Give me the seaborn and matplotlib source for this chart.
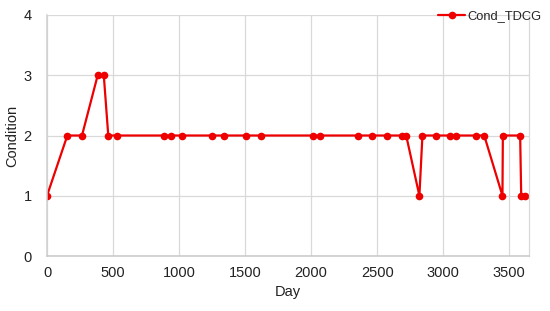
import matplotlib
matplotlib.use("Agg")
import matplotlib.pyplot as plt
import seaborn as sns
import pandas as pd

days = [0, 154, 265, 384, 430, 464, 533, 886, 937, 1025, 1248, 1341, 1505, 1621,
        2017, 2068, 2354, 2460, 2578, 2687, 2720, 2820, 2843, 2947, 3053, 3098,
        3250, 3311, 3449, 3452, 3583, 3591, 3616]
condition = [1, 2, 2, 3, 3, 2, 2, 2, 2, 2, 2, 2, 2, 2,
             2, 2, 2, 2, 2, 2, 2, 1, 2, 2, 2, 2,
             2, 2, 1, 2, 2, 1, 1]
series_name = "Cond_TDCG"
x_ticks = [0, 500, 1000, 1500, 2000, 2500, 3000, 3500]
y_ticks = [0, 1, 2, 3, 4]

df = pd.DataFrame({"Day": days, "Condition": condition})

sns.set_style("white")
plt.rcParams["font.family"] = ["Liberation Sans", "DejaVu Sans"]

fs = 10.5
fig = plt.figure(figsize=(5.5, 3.11), dpi=100)
ax = fig.add_axes([47/550, 1 - 256/311, (529-47)/550, (256-15)/311])

sns.lineplot(data=df, x="Day", y="Condition", ax=ax, color="#ee0000",
             marker="o", markersize=5.5, markeredgewidth=0, linewidth=1.6,
             estimator=None, sort=False, label=series_name)

ax.set_xlim(0, 3650)
ax.set_ylim(0, 4)
ax.set_xticks(x_ticks)
ax.set_yticks(y_ticks)
ax.grid(True, color="#d9d9d9", linewidth=0.9)
ax.set_axisbelow(True)
ax.spines["top"].set_visible(False)
ax.spines["right"].set_color("#d9d9d9")
ax.spines["right"].set_linewidth(0.9)
ax.spines["left"].set_color("#d0d0d0")
ax.spines["bottom"].set_color("#c8c8c8")
ax.spines["left"].set_linewidth(1.1)
ax.spines["bottom"].set_linewidth(1.1)
ax.tick_params(axis="x", length=0, labelsize=fs, colors="#222222", pad=7)
ax.tick_params(axis="y", length=0, labelsize=fs, colors="#222222", pad=11)
ax.set_xlabel("Day", fontsize=fs, color="#222222", labelpad=4)
ax.set_ylabel("Condition", fontsize=fs, color="#222222", labelpad=3)

leg = ax.legend(loc="upper right", bbox_to_anchor=(548/550, 307/311),
                bbox_transform=fig.transFigure, frameon=False, fontsize=9.3,
                handlelength=2.1, handletextpad=0.15, borderaxespad=0.1)

fig.savefig("out.png", dpi=100)
